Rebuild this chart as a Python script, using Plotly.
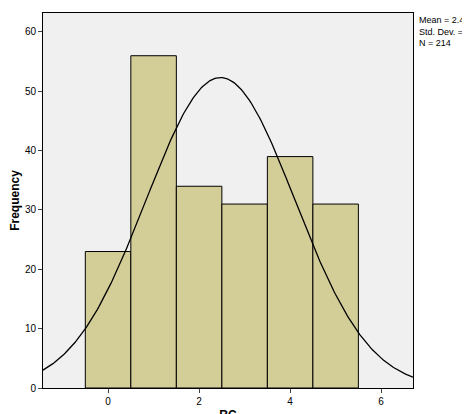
import numpy as np
import plotly.graph_objects as go

rc_values = [0, 1, 2, 3, 4, 5]
frequency = [23, 56, 34, 31, 39, 31]
mean = 2.47
std_dev = 1.632
n = 214
bin_width = 1

# fitted normal curve from the reported stats
xs = np.linspace(-1.43, 6.7, 300)
ys = n * bin_width * np.exp(-0.5 * ((xs - mean) / std_dev) ** 2) / (std_dev * np.sqrt(2 * np.pi))

fig = go.Figure()
fig.add_trace(go.Bar(x=rc_values, y=frequency, width=1,
                     marker=dict(color="#d3ce98", line=dict(color="black", width=1))))
fig.add_trace(go.Scatter(x=xs, y=ys, mode="lines", line=dict(color="black", width=1.3)))

fig.update_layout(
    width=470, height=414, showlegend=False,
    paper_bgcolor="white", plot_bgcolor="#f0f0f0",
    margin=dict(l=35, r=65, t=5, b=34, autoexpand=False),
    font=dict(family="Arial, Liberation Sans", size=10, color="black"),
    annotations=[dict(x=1.01, y=1, xref="paper", yref="paper", xanchor="left", yanchor="top",
                      align="left", showarrow=False, font=dict(size=9),
                      text=f"Mean = {mean}<br>Std. Dev. = {std_dev}<br>N = {n}")],
)
fig.update_xaxes(range=[-1.43, 6.7], tickvals=[0, 2, 4, 6], ticks="outside", ticklen=4,
                 showgrid=False, zeroline=False, showline=True, linecolor="black", mirror=True,
                 automargin=False,
                 title=dict(text="<b>RC</b>", font=dict(size=12), standoff=4))
fig.update_yaxes(range=[0, 63.2], tickvals=[0, 10, 20, 30, 40, 50, 60], ticks="outside", ticklen=4,
                 showgrid=False, zeroline=False, showline=True, linecolor="black", mirror=True,
                 automargin=False,
                 title=dict(text="<b>Frequency</b>", font=dict(size=12), standoff=2))

fig.write_html("out.html")
